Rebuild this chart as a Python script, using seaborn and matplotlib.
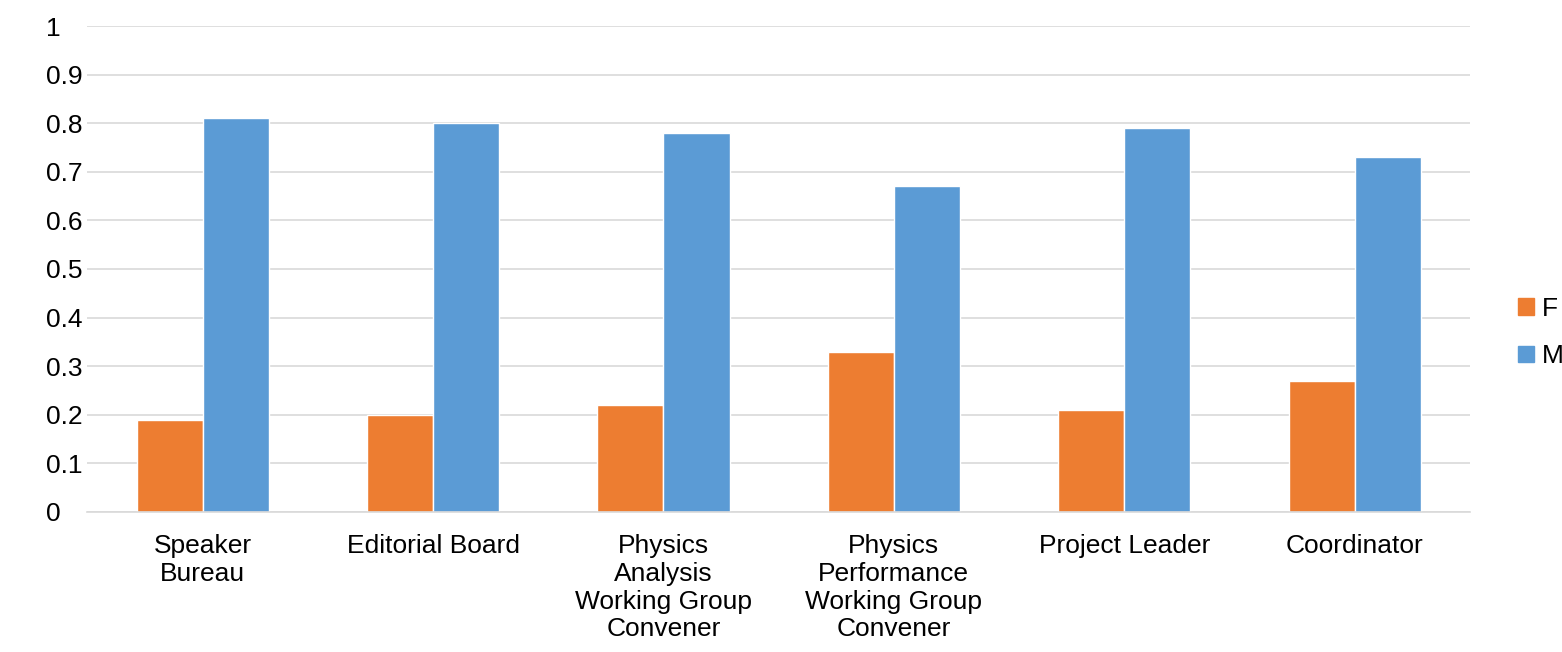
import matplotlib
matplotlib.use("Agg")
import matplotlib.pyplot as plt
import pandas as pd
import seaborn as sns

categories = [
    "Speaker\nBureau",
    "Editorial Board",
    "Physics\nAnalysis\nWorking Group\nConvener",
    "Physics\nPerformance\nWorking Group\nConvener",
    "Project Leader",
    "Coordinator",
]
female = [0.19, 0.20, 0.22, 0.33, 0.21, 0.27]
male = [0.81, 0.80, 0.78, 0.67, 0.79, 0.73]

df = pd.DataFrame({
    "role": categories * 2,
    "share": female + male,
    "gender": ["F"] * len(categories) + ["M"] * len(categories),
})

sns.set_style("white")
plt.rcParams["font.family"] = ["Liberation Sans", "DejaVu Sans"]
plt.rcParams["text.color"] = "black"

fig = plt.figure(figsize=(15.62, 6.52), dpi=100)
ax = fig.add_axes([0.056, 0.215, 0.885, 0.745])
sns.barplot(
    data=df, x="role", y="share", hue="gender",
    palette={"F": "#ED7D31", "M": "#5B9BD5"},
    width=0.574, saturation=1, ax=ax, legend=False,
)
ax.set_ylim(0, 1)
ax.set_xlim(-0.5, 5.5)
ax.set_yticks([i / 10 for i in range(11)])
ax.set_yticklabels(["0"] + [f"{i/10:.1f}" for i in range(1, 10)] + ["1"], fontsize=19)
ax.tick_params(axis="x", labelsize=19, length=0, pad=16, labelcolor="black")
ax.tick_params(axis="y", length=0, pad=30, labelcolor="black")
for lab in ax.get_yticklabels():
    lab.set_horizontalalignment("left")
ax.yaxis.grid(True, color="#D9D9D9", linewidth=1.2)
ax.set_axisbelow(True)
for s in ["top", "right", "left"]:
    ax.spines[s].set_visible(False)
ax.spines["bottom"].set_color("#D9D9D9")
ax.spines["bottom"].set_linewidth(1.2)
ax.set_xlabel("")
ax.set_ylabel("")

handles = [plt.Rectangle((0, 0), 1, 1, color=c) for c in ["#ED7D31", "#5B9BD5"]]
fig.legend(handles, ["F", "M"], loc="center left", bbox_to_anchor=(0.972, 0.49),
           frameon=False, fontsize=19, handlelength=0.6, handleheight=0.6,
           handletextpad=0.3, labelspacing=0.9, borderpad=0, borderaxespad=0)

fig.savefig("out.png", dpi=100)
